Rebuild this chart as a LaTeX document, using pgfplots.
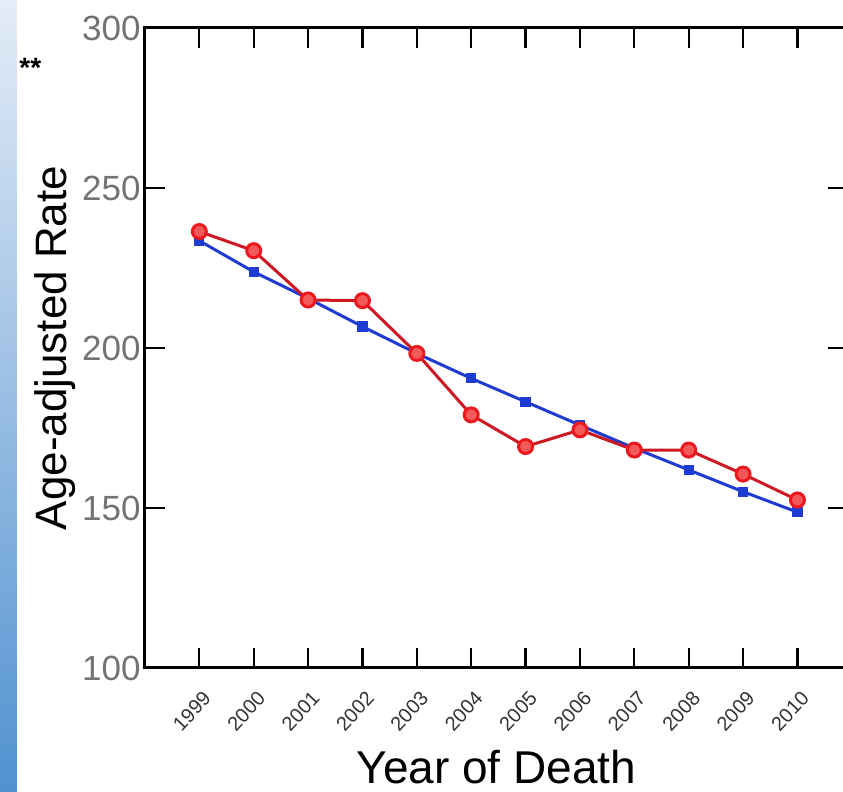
\documentclass[border=0pt]{standalone}
\usepackage{fontspec}
\setmainfont{Liberation Sans}
\usepackage{pgfplots}
\pgfplotsset{compat=1.18}
\definecolor{redline}{RGB}{205,25,35}
\definecolor{redmark}{RGB}{235,25,30}
\definecolor{redfill}{RGB}{242,90,90}
\definecolor{blueline}{RGB}{30,60,210}
\definecolor{stripTop}{RGB}{228,236,247}
\definecolor{stripBot}{RGB}{80,145,208}
\begin{document}
\begin{tikzpicture}
\begin{axis}[
  at={(0,0)}, anchor=south west,
  scale only axis, width=351.5pt, height=320pt,
  xmin=1998, xmax=2010.93, ymin=100, ymax=300,
  xtick={1999,2000,2001,2002,2003,2004,2005,2006,2007,2008,2009,2010},
  xticklabels={1999,2000,2001,2002,2003,2004,2005,2006,2007,2008,2009,2010},
  ytick={100,150,200,250,300},
  tick align=inside, major tick length=10pt,
  axis line style={line width=1.5pt, black},
  every tick/.style={black, line width=1.1pt},
  /pgf/number format/assume math mode=true,
  /pgf/number format/1000 sep={},
  x tick label style={rotate=47, anchor=center, xshift=-18.4pt, yshift=-12pt, font=\fontsize{10}{10}\selectfont, text=black!80, inner sep=0pt},
  y tick label style={font=\fontsize{17.5}{18}\selectfont, text=black!55, inner sep=2pt},
  xlabel={Year of Death},
  ylabel={Age-adjusted Rate},
  xlabel style={at={(rel axis cs:0.5,0)}, anchor=base, yshift=-58pt, inner sep=0pt, font=\fontsize{23}{24}\selectfont},
  ylabel style={at={(rel axis cs:0,0.5)}, anchor=center, yshift=45pt, font=\fontsize{22}{24}\selectfont},
  clip=false,
]
\addplot[blueline, line width=1.5pt, mark=square*, mark size=1.8pt, mark options={fill=blueline, draw=blueline}]
coordinates {
(1999,233.5) (2000,223.8) (2001,215.5) (2002,206.7) (2003,198.3) (2004,190.5)
(2005,183.2) (2006,175.9) (2007,168.7) (2008,161.9) (2009,155.1) (2010,148.7)
};
\addplot[redline, line width=1.5pt, mark=*, mark size=3.5pt, mark options={fill=redfill, draw=redmark, line width=1.5pt}]
coordinates {
(1999,236.4) (2000,230.4) (2001,215.0) (2002,214.8) (2003,198.3) (2004,179.1)
(2005,169.2) (2006,174.4) (2007,168.1) (2008,168.1) (2009,160.6) (2010,152.5)
};
\end{axis}
\shade[top color=stripTop, bottom color=stripBot] (-72.5pt,-62pt) rectangle (-64pt,334pt);
\node[font=\bfseries\fontsize{14}{14}\selectfont, anchor=west, inner sep=0pt] at (-63pt,300pt) {**};
\pgfresetboundingbox
\useasboundingbox (-72.5pt,-62pt) rectangle (349pt,334pt);
\end{tikzpicture}
\end{document}
